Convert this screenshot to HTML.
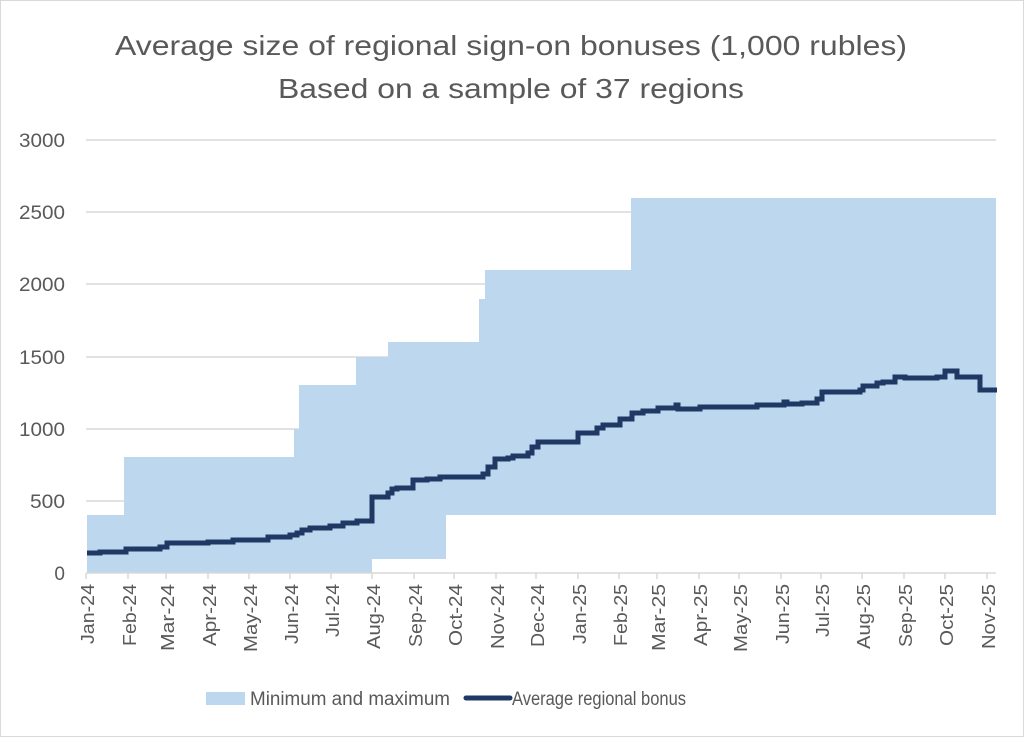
<!DOCTYPE html>
<html><head><meta charset="utf-8"><style>
html,body{margin:0;padding:0;background:#fff}
svg{display:block}
text{font-family:"Liberation Sans",sans-serif;fill:#595959}
</style></head><body>
<svg width="1024" height="737" viewBox="0 0 1024 737" xmlns="http://www.w3.org/2000/svg">
<rect x="0.5" y="0.5" width="1023" height="736" fill="#fff" stroke="#d9d9d9"/>
<text x="511" y="55" font-size="28" text-anchor="middle" textLength="792" lengthAdjust="spacingAndGlyphs">Average size of regional sign-on bonuses (1,000 rubles)</text>
<text x="511" y="98" font-size="28" text-anchor="middle" textLength="466" lengthAdjust="spacingAndGlyphs">Based on a sample of 37 regions</text>
<g stroke="#d9d9d9" stroke-width="1.5">
<line x1="86" x2="996" y1="140" y2="140"/>
<line x1="86" x2="996" y1="212" y2="212"/>
<line x1="86" x2="996" y1="284" y2="284"/>
<line x1="86" x2="996" y1="357" y2="357"/>
<line x1="86" x2="996" y1="429" y2="429"/>
<line x1="86" x2="996" y1="501" y2="501"/>
</g>
<g font-size="19" text-anchor="end">
<text x="65" y="147" textLength="46" lengthAdjust="spacingAndGlyphs">3000</text><text x="65" y="219" textLength="46" lengthAdjust="spacingAndGlyphs">2500</text><text x="65" y="291" textLength="46" lengthAdjust="spacingAndGlyphs">2000</text>
<text x="65" y="364" textLength="46" lengthAdjust="spacingAndGlyphs">1500</text><text x="65" y="436" textLength="46" lengthAdjust="spacingAndGlyphs">1000</text><text x="65" y="508" textLength="35" lengthAdjust="spacingAndGlyphs">500</text><text x="65" y="580">0</text>
</g>
<path fill="#bdd7ee" d="M87,515 H124 V457 H294 V429 H299 V385 H356 V357 H388 V342 H479 V299 H485 V270 H631 V198 H996 V515 H446 V559 H372 V573 H87 Z"/>
<line x1="86" x2="996" y1="573" y2="573" stroke="#d9d9d9" stroke-width="1.5"/>
<g stroke="#d9d9d9" stroke-width="1.5">
<line x1="86" x2="86" y1="573" y2="579"/><line x1="128" x2="128" y1="573" y2="579"/><line x1="166" x2="166" y1="573" y2="579"/><line x1="208" x2="208" y1="573" y2="579"/><line x1="249" x2="249" y1="573" y2="579"/><line x1="290" x2="290" y1="573" y2="579"/><line x1="331" x2="331" y1="573" y2="579"/><line x1="372" x2="372" y1="573" y2="579"/><line x1="414" x2="414" y1="573" y2="579"/><line x1="454" x2="454" y1="573" y2="579"/><line x1="496" x2="496" y1="573" y2="579"/><line x1="536" x2="536" y1="573" y2="579"/><line x1="578" x2="578" y1="573" y2="579"/><line x1="619" x2="619" y1="573" y2="579"/><line x1="657" x2="657" y1="573" y2="579"/><line x1="699" x2="699" y1="573" y2="579"/><line x1="739" x2="739" y1="573" y2="579"/><line x1="781" x2="781" y1="573" y2="579"/><line x1="821" x2="821" y1="573" y2="579"/><line x1="862" x2="862" y1="573" y2="579"/><line x1="904" x2="904" y1="573" y2="579"/><line x1="945" x2="945" y1="573" y2="579"/><line x1="987" x2="987" y1="573" y2="579"/>
</g>
<path fill="none" stroke="#1f3864" stroke-width="5" stroke-linejoin="miter" d="M87,553 H100 V552 H126 V549 H160 V547 H167 V543 H208 V542 H233 V540 H268 V537 H290 V535 H297 V533 H302 V530 H310 V528 H330 V526 H343 V523 H357 V521 H372 V497 H388 V493 H392 V489 H397 V488 H413 V480 H427 V479 H440 V477 H483 V474 H488 V467 H495 V459 H508 V458 H513 V456 H528 V453 H532 V447 H538 V442 H578 V433 H597 V428 H603 V425 H620 V419 H632 V413 H643 V411 H658 V408 H676 V405 H678 V409 H700 V407 H757 V405 H784 V402 H787 V404 H802 V403 H817 V399 H822 V392 H860 V390 H863 V386 H877 V383 H883 V382 H895 V377 H905 V378 H937 V377 H945 V371 H957 V377 H980 V390 H997"/>
<g font-size="18" text-anchor="end" lengthAdjust="spacingAndGlyphs">
<text transform="translate(94,584) rotate(-90)" textLength="60" lengthAdjust="spacingAndGlyphs">Jan-24</text>
<text transform="translate(136,584) rotate(-90)" textLength="62" lengthAdjust="spacingAndGlyphs">Feb-24</text>
<text transform="translate(174,584) rotate(-90)" textLength="67" lengthAdjust="spacingAndGlyphs">Mar-24</text>
<text transform="translate(216,584) rotate(-90)" textLength="62" lengthAdjust="spacingAndGlyphs">Apr-24</text>
<text transform="translate(257,584) rotate(-90)" textLength="68" lengthAdjust="spacingAndGlyphs">May-24</text>
<text transform="translate(298,584) rotate(-90)" textLength="60" lengthAdjust="spacingAndGlyphs">Jun-24</text>
<text transform="translate(339,584) rotate(-90)" textLength="53" lengthAdjust="spacingAndGlyphs">Jul-24</text>
<text transform="translate(380,584) rotate(-90)" textLength="65" lengthAdjust="spacingAndGlyphs">Aug-24</text>
<text transform="translate(422,584) rotate(-90)" textLength="63" lengthAdjust="spacingAndGlyphs">Sep-24</text>
<text transform="translate(462,584) rotate(-90)" textLength="62" lengthAdjust="spacingAndGlyphs">Oct-24</text>
<text transform="translate(504,584) rotate(-90)" textLength="65" lengthAdjust="spacingAndGlyphs">Nov-24</text>
<text transform="translate(544,584) rotate(-90)" textLength="63" lengthAdjust="spacingAndGlyphs">Dec-24</text>
<text transform="translate(586,584) rotate(-90)" textLength="60" lengthAdjust="spacingAndGlyphs">Jan-25</text>
<text transform="translate(627,584) rotate(-90)" textLength="62" lengthAdjust="spacingAndGlyphs">Feb-25</text>
<text transform="translate(665,584) rotate(-90)" textLength="67" lengthAdjust="spacingAndGlyphs">Mar-25</text>
<text transform="translate(707,584) rotate(-90)" textLength="62" lengthAdjust="spacingAndGlyphs">Apr-25</text>
<text transform="translate(747,584) rotate(-90)" textLength="68" lengthAdjust="spacingAndGlyphs">May-25</text>
<text transform="translate(789,584) rotate(-90)" textLength="60" lengthAdjust="spacingAndGlyphs">Jun-25</text>
<text transform="translate(829,584) rotate(-90)" textLength="53" lengthAdjust="spacingAndGlyphs">Jul-25</text>
<text transform="translate(870,584) rotate(-90)" textLength="65" lengthAdjust="spacingAndGlyphs">Aug-25</text>
<text transform="translate(912,584) rotate(-90)" textLength="63" lengthAdjust="spacingAndGlyphs">Sep-25</text>
<text transform="translate(953,584) rotate(-90)" textLength="62" lengthAdjust="spacingAndGlyphs">Oct-25</text>
<text transform="translate(995,584) rotate(-90)" textLength="65" lengthAdjust="spacingAndGlyphs">Nov-25</text>
</g>
<rect x="206" y="692" width="39" height="13" fill="#bdd7ee"/>
<text x="250" y="705" font-size="19" textLength="200" lengthAdjust="spacingAndGlyphs">Minimum and maximum</text>
<line x1="466" x2="510" y1="698" y2="698" stroke="#1f3864" stroke-width="5" stroke-linecap="round"/>
<text x="512" y="705" font-size="19" textLength="174" lengthAdjust="spacingAndGlyphs">Average regional bonus</text>
</svg>
</body></html>
